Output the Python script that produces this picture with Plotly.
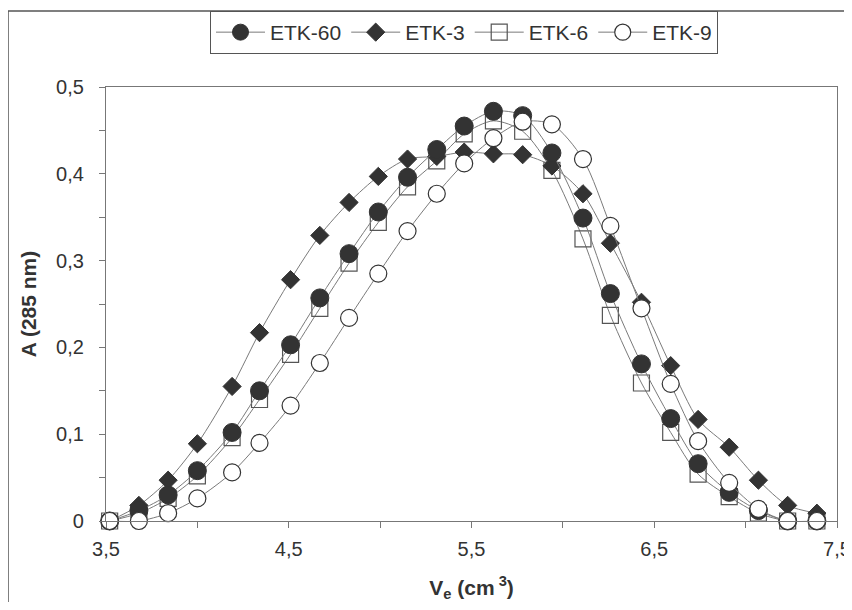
import plotly.graph_objects as go

ve = [3.52, 3.68, 3.84, 4.00, 4.19, 4.34, 4.51, 4.67, 4.83, 4.99, 5.15, 5.31, 5.46,
      5.62, 5.78, 5.94, 6.11, 6.26, 6.43, 6.59, 6.74, 6.91, 7.07, 7.23, 7.39]
etk60 = [0.000, 0.012, 0.030, 0.058, 0.102, 0.150, 0.203, 0.257, 0.308, 0.356, 0.396, 0.428, 0.455,
         0.472, 0.467, 0.424, 0.349, 0.262, 0.181, 0.118, 0.066, 0.033, 0.012, 0.000, 0.000]
etk3 = [0.000, 0.018, 0.047, 0.089, 0.155, 0.217, 0.278, 0.329, 0.367, 0.397, 0.417, 0.420, 0.425,
        0.423, 0.422, 0.409, 0.377, 0.320, 0.252, 0.179, 0.117, 0.085, 0.047, 0.018, 0.009]
etk6 = [0.000, 0.009, 0.026, 0.052, 0.096, 0.140, 0.192, 0.245, 0.297, 0.344, 0.385, 0.415, 0.446,
        0.461, 0.449, 0.404, 0.325, 0.237, 0.159, 0.102, 0.054, 0.028, 0.009, 0.000, 0.000]
etk9 = [0.000, 0.000, 0.009, 0.026, 0.056, 0.090, 0.133, 0.182, 0.234, 0.285, 0.334, 0.377, 0.412,
        0.441, 0.460, 0.457, 0.417, 0.340, 0.245, 0.158, 0.092, 0.044, 0.014, 0.000, 0.000]

x_ticks = [3.5, 4.5, 5.5, 6.5, 7.5]
x_tick_text = ["3,5", "4,5", "5,5", "6,5", "7,5"]
y_ticks = [0, 0.1, 0.2, 0.3, 0.4, 0.5]
y_tick_text = ["0", "0,1", "0,2", "0,3", "0,4", "0,5"]

LINE = dict(color="#7a7a7a", width=1, shape="spline", smoothing=0.8)
DARK = "#333333"

fig = go.Figure()
fig.add_trace(go.Scatter(x=ve, y=etk6, name="ETK-6", mode="lines+markers", legendrank=3,
                         line=LINE, cliponaxis=False,
                         marker=dict(symbol="square-open", size=16, color="#555555",
                                     line=dict(width=1.2, color="#555555"))))
fig.add_trace(go.Scatter(x=ve, y=etk3, name="ETK-3", mode="lines+markers", legendrank=2,
                         line=LINE, cliponaxis=False,
                         marker=dict(symbol="diamond", size=14, color=DARK,
                                     line=dict(width=1, color=DARK))))
fig.add_trace(go.Scatter(x=ve, y=etk60, name="ETK-60", mode="lines+markers", legendrank=1,
                         line=LINE, cliponaxis=False,
                         marker=dict(symbol="circle", size=18, color=DARK,
                                     line=dict(width=1, color=DARK))))
fig.add_trace(go.Scatter(x=ve, y=etk9, name="ETK-9", mode="lines+markers", legendrank=4,
                         line=LINE, cliponaxis=False,
                         marker=dict(symbol="circle", size=17, color="white",
                                     line=dict(width=1.2, color=DARK))))

FONT = "Arial, Liberation Sans, sans-serif"
fig.update_layout(
    width=844, height=594,
    margin=dict(l=98, r=15, t=79, b=81, autoexpand=False),
    paper_bgcolor="white", plot_bgcolor="white",
    font=dict(family=FONT, size=21, color=DARK),
    showlegend=True,
    legend=dict(orientation="h", x=(210 - 106) / 731, y=(521 - 11) / 434,
                xanchor="left", yanchor="top",
                bordercolor="#555555", borderwidth=1, bgcolor="white",
                font=dict(size=21, color=DARK), itemwidth=49,
                tracegroupgap=0),
    xaxis=dict(range=[3.5, 7.5], tickvals=x_ticks, ticktext=x_tick_text,
               showgrid=False, zeroline=False, showline=True, linecolor="#777777",
               linewidth=1.3, mirror=True, ticks="outside", ticklen=6, tickcolor="#777777",
               minor=dict(tickvals=[4.0, 5.0, 6.0, 7.0], ticks="outside", ticklen=6,
                          tickcolor="#777777"),
               tickfont=dict(size=20, color=DARK), ticklabelstandoff=4,
               title=dict(text="<b>V<sub>e</sub> (cm<sup> 3</sup>)</b>",
                          font=dict(size=21, color=DARK), standoff=24)),
    yaxis=dict(range=[0, 0.5], tickvals=y_ticks, ticktext=y_tick_text,
               showgrid=False, zeroline=False, showline=True, linecolor="#777777",
               linewidth=1.3, mirror=True, ticks="outside", ticklen=6, tickcolor="#777777",
               minor=dict(tickvals=[0.05, 0.15, 0.25, 0.35, 0.45], ticks="outside", ticklen=6,
                          tickcolor="#777777"),
               tickfont=dict(size=20, color=DARK), ticklabelstandoff=11,
               title=dict(text="<b>A (285 nm)</b>", font=dict(size=21, color=DARK),
                          standoff=13)),
    shapes=[dict(type="rect", xref="paper", yref="paper",
                 x0=(8 - 106) / 731, x1=1.1, y0=-0.3, y1=(521 - 11) / 434,
                 line=dict(color="#555555", width=1.5), layer="below")],
)

fig.write_html("out.html")
